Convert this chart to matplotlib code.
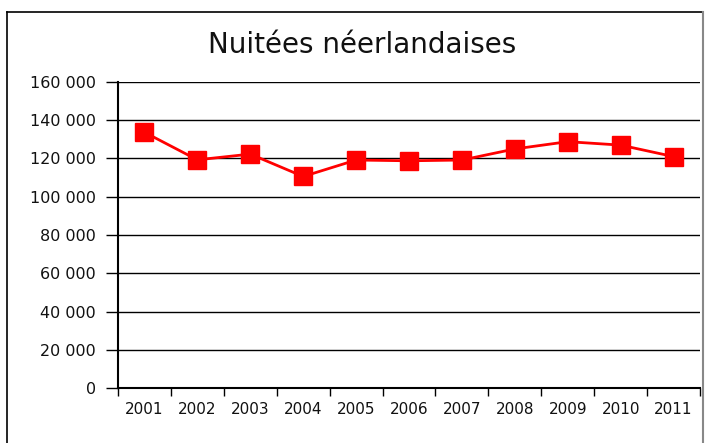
import matplotlib
matplotlib.use("Agg")
import matplotlib.pyplot as plt
from matplotlib.lines import Line2D
from matplotlib.ticker import FuncFormatter, FixedLocator
import numpy as np

years = ["2001", "2002", "2003", "2004", "2005", "2006", "2007", "2008", "2009", "2010", "2011"]
nuitees = [133700, 119300, 122300, 110600, 119200, 118800, 119200, 125000, 128800, 127000, 121000]
y_ticks = [0, 20000, 40000, 60000, 80000, 100000, 120000, 140000, 160000]
title = "Nuitées néerlandaises"

plt.rcParams['font.family'] = ['DejaVu Sans']

fig = plt.figure(figsize=(7.1, 4.43), dpi=100)
ax = fig.add_axes([118/710, 1 - 388/443, (700-118)/710, (388-82)/443])

x = np.arange(len(years))
ax.plot(x, nuitees, color='#ff0000', lw=2, marker='s', markersize=13,
        markerfacecolor='#ff0000', markeredgecolor='#ff0000', zorder=3, clip_on=False)

ax.set_xlim(-0.5, len(years) - 0.5)
ax.set_ylim(0, 160000)
ax.set_yticks(y_ticks)
ax.yaxis.set_major_formatter(FuncFormatter(lambda v, p: f"{int(v):,}".replace(",", " ")))
ax.grid(axis='y', color='black', lw=1)
ax.set_axisbelow(True)

ax.set_xticks(x)
ax.set_xticklabels(years)
ax.xaxis.set_minor_locator(FixedLocator(np.arange(-0.5, len(years), 1.0)))
ax.tick_params(axis='x', which='major', length=0, pad=10, labelsize=11, labelcolor='#111111')
ax.tick_params(axis='x', which='minor', length=6, width=1, direction='out')
ax.tick_params(axis='y', length=9, width=1, direction='out', labelsize=11.5, pad=7, labelcolor='#111111')

for s in ['top', 'right']:
    ax.spines[s].set_visible(False)
ax.spines['left'].set_linewidth(1.5)
ax.spines['bottom'].set_linewidth(1.5)

fig.text(362/710, 1 - 45/443, title, ha='center', va='center', fontsize=20, color='#111111')

# outer frame
W, H = 710, 443
fig.add_artist(Line2D([7/W, 7/W], [0, 1 - 12/H], color='black', lw=1.2, transform=fig.transFigure))
fig.add_artist(Line2D([7/W, 703/W], [1 - 12/H, 1 - 12/H], color='black', lw=1.2, transform=fig.transFigure))
fig.add_artist(Line2D([703/W, 703/W], [0, 1 - 12/H], color='#888888', lw=1.5, transform=fig.transFigure))

fig.savefig("out.png", dpi=100)
